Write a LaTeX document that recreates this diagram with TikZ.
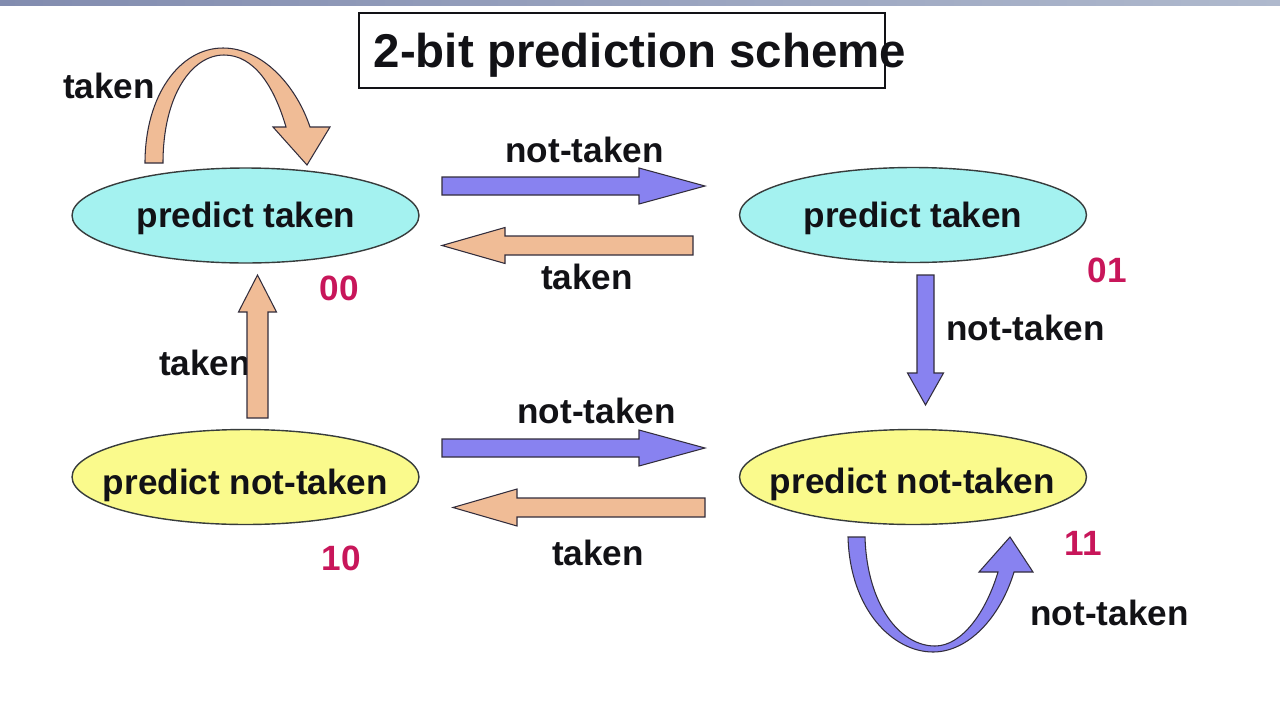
\documentclass[tikz,border=0pt]{standalone}
\usepackage{fontspec}
\setmainfont{Liberation Sans}
\usetikzlibrary{shapes.geometric}
\definecolor{cyanfill}{RGB}{164,242,240}
\definecolor{yellowfill}{RGB}{250,250,140}
\definecolor{arrowblue}{RGB}{136,130,240}
\definecolor{arroworange}{RGB}{240,188,150}
\definecolor{arrowedge}{RGB}{50,45,60}
\definecolor{edgegray}{RGB}{55,60,60}
\definecolor{numred}{RGB}{200,22,90}
\definecolor{textblack}{RGB}{18,18,22}
\definecolor{stripL}{RGB}{130,140,175}
\definecolor{stripR}{RGB}{175,185,205}
% horizontal block arrow: style, tail x, head-base x, tip x, centre y, shaft half, head half
\newcommand\harr[7]{\draw[#1] (#2,#5-#6) -- (#3,#5-#6) -- (#3,#5-#7) -- (#4,#5) -- (#3,#5+#7) -- (#3,#5+#6) -- (#2,#5+#6) -- cycle;}
% vertical block arrow: style, tail y, head-base y, tip y, centre x, shaft half, head half
\newcommand\varr[7]{\draw[#1] (#5-#6,#2) -- (#5-#6,#3) -- (#5-#7,#3) -- (#5,#4) -- (#5+#7,#3) -- (#5+#6,#3) -- (#5+#6,#2) -- cycle;}
\begin{document}
\begin{tikzpicture}[x=0.02cm,y=-0.02cm,
  statec/.style={ellipse, draw=edgegray, line width=0.8pt, fill=cyanfill,
    minimum width=6.94cm, minimum height=1.9cm, inner sep=0pt},
  statey/.style={statec, fill=yellowfill},
  lbl/.style={font=\fontsize{20pt}{24pt}\selectfont\bfseries, text=textblack, inner sep=0pt, anchor=base},
  num/.style={lbl, text=numred},
  barrow/.style={fill=arrowblue, draw=arrowedge, line width=0.6pt, line join=miter},
  oarrow/.style={fill=arroworange, draw=arrowedge, line width=0.6pt, line join=miter}]
\useasboundingbox (0,0) rectangle (1280,700);
\fill[white] (0,0) rectangle (1280,700);
\shade[left color=stripL, right color=stripR] (0,0) rectangle (1280,5);

% title
\node[draw=textblack, line width=1.1pt, minimum width=10.52cm, minimum height=1.5cm, inner sep=0pt] (titlebox) at (622,50.5) {};
\node[font=\fontsize{27pt}{32pt}\selectfont\bfseries, text=textblack, anchor=base, inner sep=0pt] (title) at (640,67) {2-bit prediction scheme};

% states
\node[statec] (s00) at (245.5,215.5) {};
\node[statec] (s01) at (913,215) {};
\node[statey] (s10) at (245.5,477) {};
\node[statey] (s11) at (913,477) {};
\node[lbl] (t00) at (246,227) {predict taken};
\node[lbl] (t01) at (913,227) {predict taken};
\node[lbl] (t10) at (245.5,494) {predict not-taken};
\node[lbl] (t11) at (912.5,493) {predict not-taken};

% state numbers
\node[num] (n00) at (339,300) {00};
\node[num] (n01) at (1107,282) {01};
\node[num] (n10) at (341,570) {10};
\node[num] (n11) at (1083,555) {11};

% transition labels
\node[lbl] (l1) at (109,98) {taken};
\node[lbl] (l2) at (584.5,162) {not-taken};
\node[lbl] (l3) at (587,289) {taken};
\node[lbl] (l4) at (1025.5,340) {not-taken};
\node[lbl] (l5) at (205,375) {taken};
\node[lbl] (l6) at (596.5,423) {not-taken};
\node[lbl] (l7) at (598,565) {taken};
\node[lbl] (l8) at (1109.5,625) {not-taken};

% straight block arrows
\harr{barrow}{442}{639}{705}{186}{9}{18}
\harr{oarrow}{693}{505}{442}{245.5}{9.5}{18}
\harr{barrow}{442}{639}{705}{448}{9}{18}
\harr{oarrow}{705}{517}{453}{507.5}{9.5}{18.5}
\varr{oarrow}{418}{312}{275}{257.5}{10.5}{19}
\varr{barrow}{275}{373}{405}{925.5}{8.5}{18}

% self loop on 00 (taken)
\draw[oarrow] (145,163) .. controls (145,95) and (180,48) .. (223,48)
  .. controls (262,48) and (296,85) .. (310,127) -- (330,127) -- (307,165) -- (273,127) -- (286,127)
  .. controls (274,86) and (254,55) .. (224,55)
  .. controls (192,55) and (163,95) .. (163,163) -- cycle;

% self loop on 11 (not-taken)
\draw[barrow] (848,537) .. controls (850,610) and (893,652) .. (933,652)
  .. controls (968,652) and (1000,618) .. (1014,572) -- (1033,572) -- (1010,537) -- (979,572) -- (998,572)
  .. controls (986,612) and (962,646) .. (935,646)
  .. controls (900,646) and (867,605) .. (865,537) -- cycle;
\end{tikzpicture}
\end{document}
